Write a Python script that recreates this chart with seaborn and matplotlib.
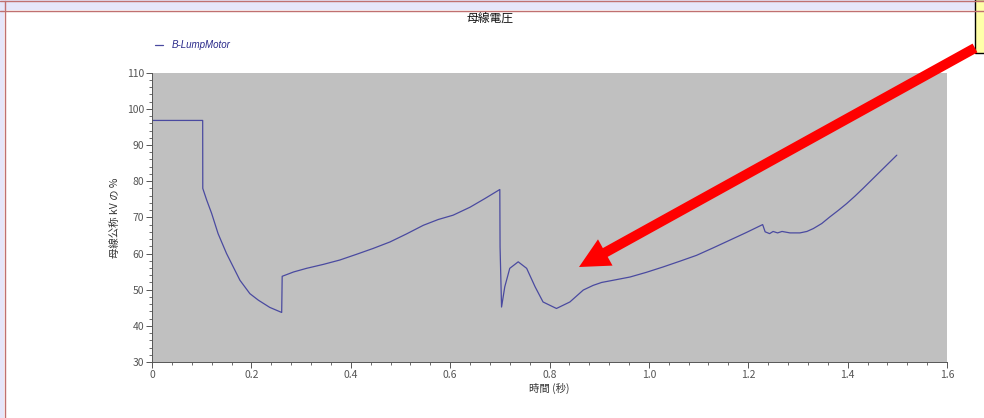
import numpy as np
import pandas as pd
import matplotlib
matplotlib.use("Agg")
import matplotlib.pyplot as plt
import seaborn as sns
from matplotlib.patches import Rectangle, FancyArrow
from matplotlib.transforms import IdentityTransform
from matplotlib.ticker import MultipleLocator

# bus voltage trace (time in s, % of nominal kV)
time_s = [0.0, 0.05, 0.102, 0.1021, 0.1022, 0.110, 0.120, 0.133, 0.150, 0.177,
          0.197, 0.214, 0.237, 0.261, 0.2615, 0.262, 0.285, 0.311, 0.345, 0.378,
          0.412, 0.445, 0.479, 0.512, 0.546, 0.576, 0.606, 0.64, 0.67, 0.700,
          0.7005, 0.7035, 0.710, 0.720, 0.737, 0.754, 0.771, 0.787, 0.814, 0.841,
          0.868, 0.888, 0.905, 0.928, 0.962, 0.995, 1.029, 1.063, 1.096, 1.13,
          1.163, 1.196, 1.229, 1.234, 1.243, 1.25, 1.259, 1.268, 1.284, 1.304,
          1.318, 1.331, 1.348, 1.364, 1.381, 1.398, 1.415, 1.431, 1.448, 1.465,
          1.482, 1.499]
voltage = [96.8, 96.8, 96.8, 87.7, 78.0, 74.8, 71.1, 65.5, 60.0, 52.6,
           48.9, 47.1, 45.1, 43.7, 48.5, 53.7, 54.9, 55.9, 57.0, 58.2,
           59.8, 61.4, 63.2, 65.4, 67.8, 69.4, 70.6, 72.8, 75.2, 77.7,
           61.8, 45.2, 50.8, 55.9, 57.7, 55.9, 50.8, 46.6, 44.8, 46.6,
           49.9, 51.2, 52.0, 52.6, 53.5, 54.8, 56.3, 57.9, 59.5, 61.6,
           63.7, 65.8, 68.0, 66.0, 65.5, 66.1, 65.7, 66.1, 65.7, 65.7,
           66.1, 66.9, 68.3, 70.1, 71.9, 73.8, 75.9, 78.0, 80.3, 82.6,
           84.9, 87.2]
series_name = "B-LumpMotor"

df = pd.DataFrame({"t": time_s, "v": voltage, "series": series_name})

sns.set_style("white")
plt.rcParams["font.family"] = ["Noto Sans CJK JP", "DejaVu Sans"]

line_color = "#4a4aa0"
fig = plt.figure(figsize=(9.84, 4.18), dpi=100)
ax = fig.add_axes([152 / 984, 1 - 362 / 418, 795 / 984, 289.3 / 418])
ax.set_facecolor("#c0c0c0")

sns.lineplot(data=df, x="t", y="v", hue="series", palette=[line_color],
             sort=False, estimator=None, lw=0.9, ax=ax, legend=False)

ax.set_xlim(0, 1.6)
ax.set_ylim(30, 110)
ax.xaxis.set_major_locator(MultipleLocator(0.2))
ax.xaxis.set_minor_locator(MultipleLocator(0.04))
ax.yaxis.set_major_locator(MultipleLocator(10))
ax.yaxis.set_minor_locator(MultipleLocator(2))
ax.set_xticks(ax.get_xticks())
ax.set_xticklabels([f"{v:.1f}" if v > 0 else "0" for v in ax.get_xticks()])
ax.set_xlim(0, 1.6)
ax.tick_params(which="both", direction="out", colors="#555555", labelsize=7.5,
               pad=1.5, bottom=True, left=True)
ax.tick_params(which="major", length=4, width=0.7)
ax.tick_params(which="minor", length=2, width=0.6)
for s in ax.spines.values():
    s.set_visible(False)
for side in ("left", "bottom"):
    ax.spines[side].set_visible(True)
    ax.spines[side].set_color("#555555")
    ax.spines[side].set_linewidth(0.7)

ax.set_xlabel("時間 (秒)", fontsize=7.5, style="italic", color="#333333", labelpad=2)
ax.set_ylabel("母線公称 kV の %", fontsize=7.5, style="italic", color="#333333", labelpad=5)

fig.text(490 / 984, 1 - 18 / 418, "母線電圧", ha="center", va="center",
         fontsize=8.5, color="#111111")

# legend entry
fig.add_artist(plt.Line2D([155 / 984, 163 / 984], [1 - 45 / 418] * 2,
                          color=line_color, lw=0.9))
fig.text(172 / 984, 1 - 45 / 418, series_name, ha="left", va="center",
         fontsize=7, style="italic", color="#2a2a8a",
         family=["Liberation Sans", "DejaVu Sans"])

# window decorations
fig.add_artist(Rectangle((0, 1 - 10 / 418), 1, 10 / 418, transform=fig.transFigure,
                         facecolor="#e6e6fa", edgecolor="none"))
fig.add_artist(Rectangle((0, 0), 4 / 984, 1, transform=fig.transFigure,
                         facecolor="#e6e6fa", edgecolor="none"))
fig.add_artist(plt.Line2D([0, 1], [1 - 1 / 418] * 2, color="#c07070", lw=1))
fig.add_artist(plt.Line2D([0, 1], [1 - 10.5 / 418] * 2, color="#c07070", lw=1))
fig.add_artist(plt.Line2D([4.5 / 984] * 2, [0, 1 - 1 / 418], color="#c07070", lw=1))
fig.add_artist(Rectangle((975 / 984, 1 - 53 / 418), 12 / 984, 54 / 418,
                         transform=fig.transFigure, facecolor="#ffffa8",
                         edgecolor="black", lw=1))

# red callout arrow (display pixels, origin bottom-left)
x0, y0 = 975, 418 - 48
x1, y1 = 579, 418 - 267
fig.add_artist(FancyArrow(x0, y0, x1 - x0, y1 - y0, width=10, head_width=30,
                          head_length=30, length_includes_head=True,
                          transform=IdentityTransform(), color="#ff0000", lw=0))

fig.savefig("out.png", dpi=100)
